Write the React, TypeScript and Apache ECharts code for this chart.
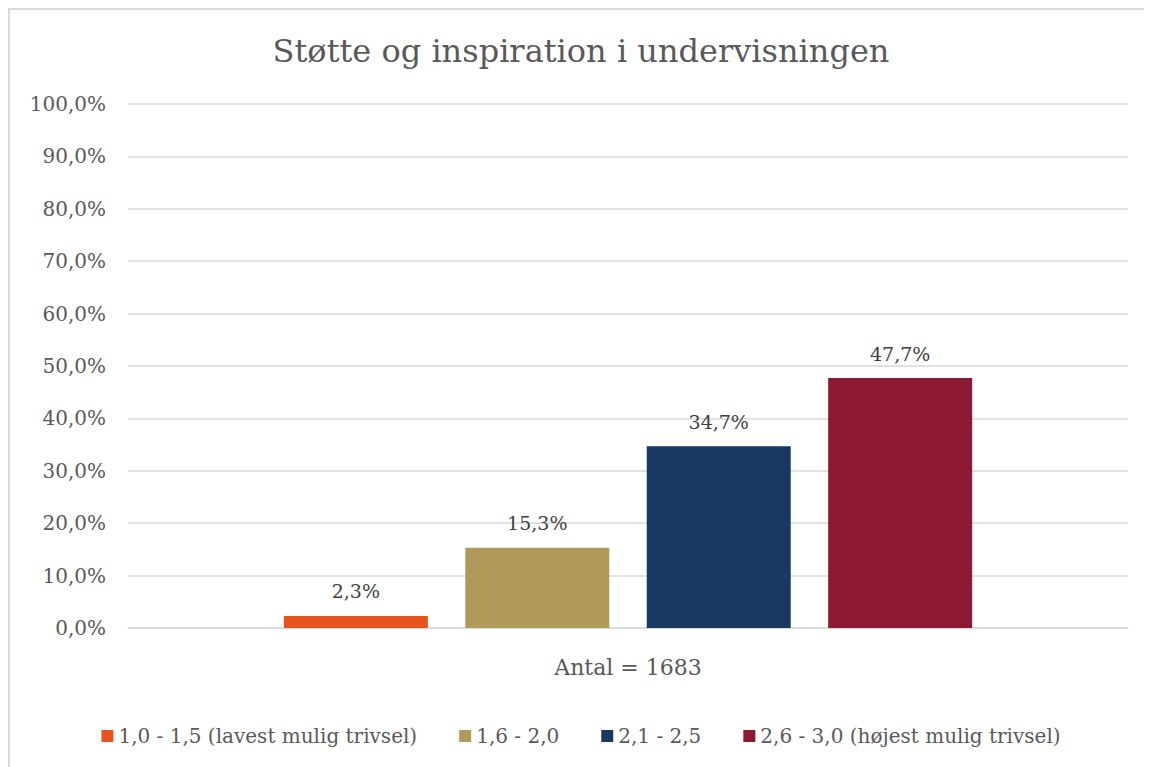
import React, { useEffect, useRef } from "react";
import * as echarts from "echarts";

const title = "Støtte og inspiration i undervisningen";
const categories = ["Antal = 1683"];
const seriesNames = [
  "1,0 - 1,5 (lavest mulig trivsel)",
  "1,6 - 2,0",
  "2,1 - 2,5",
  "2,6 - 3,0 (højest mulig trivsel)",
];
const seriesValues = [2.3, 15.3, 34.7, 47.7];
const seriesColors = ["#E9531F", "#B09A59", "#193862", "#8C1832"];

const FONT = "Georgia, 'DejaVu Serif', serif";
const fmt = (v: number) => v.toFixed(1).replace(".", ",") + "%";

export default function App() {
  const ref = useRef<HTMLDivElement>(null);
  useEffect(() => {
    if (!ref.current) return;
    const chart = echarts.init(ref.current, null, { renderer: "svg" });
    chart.setOption({
      animation: false,
      backgroundColor: "#ffffff",
      title: {
        text: title,
        left: "center",
        top: 20,
        textStyle: { fontFamily: FONT, fontSize: 32, fontWeight: "normal", color: "#595959" },
      },
      grid: { left: 118, top: 94, width: 1000, height: 524, containLabel: false },
      legend: {
        bottom: 16,
        left: "center",
        itemWidth: 12,
        itemHeight: 12,
        itemGap: 42,
        icon: "rect",
        textStyle: { fontFamily: FONT, fontSize: 20, color: "#595959" },
        data: seriesNames,
      },
      xAxis: {
        type: "category",
        data: categories,
        axisTick: { show: false },
        axisLine: { lineStyle: { color: "#d9d9d9", width: 1.5 } },
        axisLabel: { fontFamily: FONT, fontSize: 22, color: "#595959", margin: 28 },
      },
      yAxis: {
        type: "value",
        min: 0,
        max: 100,
        interval: 10,
        axisLabel: {
          fontFamily: FONT,
          fontSize: 20,
          color: "#595959",
          margin: 22,
          formatter: (v: number) => fmt(v),
        },
        splitLine: { lineStyle: { color: "#d9d9d9", width: 1.5 } },
        axisLine: { show: false },
        axisTick: { show: false },
      },
      series: seriesNames.map((name, i) => ({
        name,
        type: "bar",
        barWidth: 144,
        barGap: "26%",
        itemStyle: { color: seriesColors[i] },
        label: {
          show: true,
          position: "top",
          distance: 15,
          fontFamily: FONT,
          fontSize: 19,
          color: "#404040",
          formatter: (p: any) => fmt(p.value),
        },
        data: [seriesValues[i]],
      })),
    });
    return () => chart.dispose();
  }, []);
  return (
    <div
      style={{
        width: 1142,
        height: 757,
        borderTop: "2px solid #d9d9d9",
        borderLeft: "2px solid #d9d9d9",
        background: "#fff",
      }}
    >
      <div ref={ref} style={{ width: 1142, height: 757 }} />
    </div>
  );
}
